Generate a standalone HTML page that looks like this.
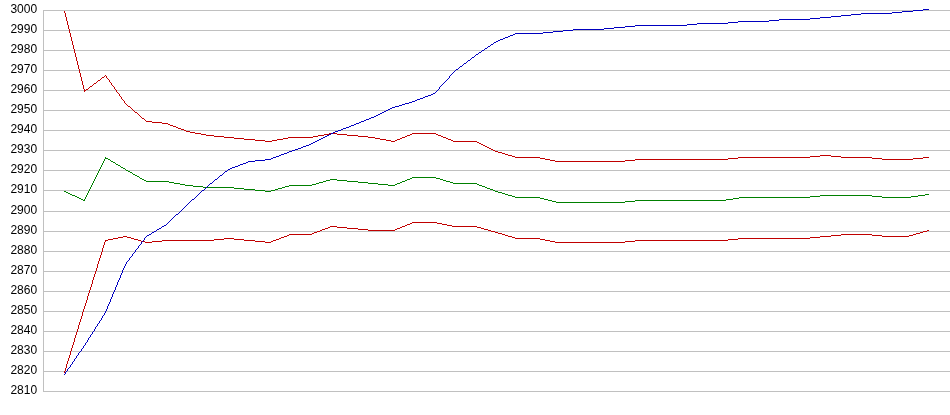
<!DOCTYPE html>
<html><head><meta charset="utf-8"><style>
html,body{margin:0;padding:0;background:#fff;}
body{width:950px;height:415px;position:relative;overflow:hidden;}
.l{position:absolute;right:912px;font-family:"Liberation Sans",sans-serif;font-size:12px;line-height:14px;color:#000;white-space:nowrap;will-change:transform;transform:translateX(-0.6px);}
svg{position:absolute;left:0;top:0;}
</style></head><body>
<div class="l" style="top:2px">3000</div><div class="l" style="top:22px">2990</div><div class="l" style="top:42px">2980</div><div class="l" style="top:62px">2970</div><div class="l" style="top:82px">2960</div><div class="l" style="top:102px">2950</div><div class="l" style="top:122px">2940</div><div class="l" style="top:142px">2930</div><div class="l" style="top:162px">2920</div><div class="l" style="top:182px">2910</div><div class="l" style="top:203px">2900</div><div class="l" style="top:223px">2890</div><div class="l" style="top:243px">2880</div><div class="l" style="top:263px">2870</div><div class="l" style="top:283px">2860</div><div class="l" style="top:303px">2850</div><div class="l" style="top:323px">2840</div><div class="l" style="top:343px">2830</div><div class="l" style="top:363px">2820</div><div class="l" style="top:383px">2810</div>
<svg width="950" height="415" viewBox="0 0 950 415" shape-rendering="crispEdges">
<path fill="#c0c0c0" d="M43 10h907v1h-907zM43 30h907v1h-907zM43 50h907v1h-907zM43 70h907v1h-907zM43 90h907v1h-907zM43 110h907v1h-907zM43 130h907v1h-907zM43 150h907v1h-907zM43 170h907v1h-907zM43 190h907v1h-907zM43 211h907v1h-907zM43 231h907v1h-907zM43 251h907v1h-907zM43 271h907v1h-907zM43 291h907v1h-907zM43 311h907v1h-907zM43 331h907v1h-907zM43 351h907v1h-907zM43 371h907v1h-907zM43 391h907v1h-907zM43 10h1v382h-1z"/>
<path fill="#c00000" d="M255 140h10v1h-10zM272 140h5v1h-5zM386 140h5v1h-5zM395 140h2v1h-2zM451 140h2v1h-2zM555 161h70v1h-70zM170 125h3v1h-3zM515 157h25v1h-25zM738 157h72v1h-72zM841 157h31v1h-31zM923 157h6v1h-6zM94 83h2v1h-2zM265 141h7v1h-7zM391 141h4v1h-4zM453 141h24v1h-24zM201 134h5v1h-5zM324 134h5v1h-5zM337 134h10v1h-10zM410 134h2v1h-2zM436 134h2v1h-2zM224 137h10v1h-10zM288 137h25v1h-25zM368 137h7v1h-7zM402 137h3v1h-3zM443 137h3v1h-3zM545 159h5v1h-5zM635 159h93v1h-93zM882 159h31v1h-31zM550 160h5v1h-5zM625 160h10v1h-10zM86 89h2v1h-2zM195 133h6v1h-6zM329 133h8v1h-8zM412 133h24v1h-24zM540 158h5v1h-5zM728 158h10v1h-10zM872 158h10v1h-10zM913 158h10v1h-10zM244 139h11v1h-11zM277 139h6v1h-6zM380 139h6v1h-6zM397 139h3v1h-3zM448 139h3v1h-3zM214 136h10v1h-10zM313 136h5v1h-5zM358 136h10v1h-10zM405 136h2v1h-2zM441 136h2v1h-2zM162 123h6v1h-6zM512 156h3v1h-3zM810 156h10v1h-10zM831 156h10v1h-10zM502 153h3v1h-3zM206 135h8v1h-8zM318 135h6v1h-6zM347 135h11v1h-11zM407 135h3v1h-3zM438 135h3v1h-3zM181 129h3v1h-3zM505 154h3v1h-3zM173 126h3v1h-3zM508 155h4v1h-4zM820 155h11v1h-11zM186 131h4v1h-4zM498 152h4v1h-4zM102 77h2v1h-2zM234 138h10v1h-10zM283 138h5v1h-5zM375 138h5v1h-5zM400 138h2v1h-2zM446 138h2v1h-2zM152 122h10v1h-10zM98 80h2v1h-2zM146 121h6v1h-6zM90 86h2v1h-2zM142 118h2v1h-2zM190 132h5v1h-5zM495 151h3v1h-3zM128 106h2v1h-2zM481 144h2v1h-2zM477 142h2v1h-2zM487 147h2v1h-2zM479 143h2v1h-2zM168 124h2v1h-2zM483 145h2v1h-2zM84 90h2v1h-2zM178 128h3v1h-3zM135 112h2v1h-2zM176 127h2v1h-2zM491 149h2v1h-2zM493 150h2v1h-2zM485 146h2v1h-2zM489 148h2v1h-2zM184 130h2v1h-2zM114 87h1v2h-1zM78 65h1v4h-1zM97 81h1v1h-1zM123 100h1v1h-1zM71 37h1v4h-1zM111 83h1v2h-1zM65 13h1v4h-1zM83 85h1v4h-1zM69 29h1v4h-1zM77 61h1v4h-1zM81 77h1v4h-1zM106 76h1v2h-1zM115 89h1v1h-1zM117 92h1v1h-1zM73 45h1v4h-1zM137 113h1v1h-1zM121 97h1v2h-1zM74 49h1v4h-1zM122 99h1v1h-1zM109 80h1v2h-1zM72 41h1v4h-1zM66 17h1v4h-1zM70 33h1v4h-1zM88 88h1v1h-1zM64 11h1v2h-1zM82 81h1v4h-1zM140 116h1v1h-1zM76 57h1v4h-1zM80 73h1v4h-1zM67 21h1v4h-1zM92 85h1v1h-1zM79 69h1v4h-1zM124 101h1v2h-1zM141 117h1v1h-1zM101 78h1v1h-1zM75 53h1v4h-1zM119 94h1v2h-1zM107 78h1v1h-1zM116 90h1v2h-1zM138 114h1v1h-1zM131 108h1v1h-1zM120 96h1v1h-1zM108 79h1v1h-1zM132 109h1v1h-1zM96 82h1v1h-1zM133 110h1v1h-1zM144 119h1v1h-1zM68 25h1v4h-1zM100 79h1v1h-1zM118 93h1v1h-1zM134 111h1v1h-1zM127 105h1v1h-1zM130 107h1v1h-1zM89 87h1v1h-1zM112 85h1v1h-1zM125 103h1v1h-1zM126 104h1v1h-1zM113 86h1v1h-1zM84 89h1v1h-1zM84 91h1v1h-1zM105 75h1v1h-1zM145 120h1v1h-1zM104 76h1v1h-1zM110 82h1v1h-1zM93 84h1v1h-1zM139 115h1v1h-1z"/>
<path fill="#008000" d="M142 179h2v1h-2zM330 179h7v1h-7zM407 179h3v1h-3zM440 179h3v1h-3zM146 181h23v1h-23zM323 181h3v1h-3zM347 181h11v1h-11zM402 181h3v1h-3zM446 181h4v1h-4zM135 175h2v1h-2zM180 184h5v1h-5zM312 184h4v1h-4zM378 184h10v1h-10zM395 184h2v1h-2zM477 184h2v1h-2zM83 200h2v1h-2zM548 200h4v1h-4zM635 200h91v1h-91zM77 197h2v1h-2zM515 197h25v1h-25zM739 197h71v1h-71zM882 197h29v1h-29zM144 180h2v1h-2zM326 180h4v1h-4zM337 180h10v1h-10zM405 180h2v1h-2zM443 180h3v1h-3zM174 183h6v1h-6zM316 183h3v1h-3zM368 183h10v1h-10zM397 183h3v1h-3zM453 183h24v1h-24zM556 202h69v1h-69zM108 159h2v1h-2zM169 182h5v1h-5zM319 182h4v1h-4zM358 182h10v1h-10zM400 182h2v1h-2zM450 182h3v1h-3zM75 196h2v1h-2zM512 196h3v1h-3zM810 196h10v1h-10zM872 196h10v1h-10zM911 196h7v1h-7zM81 199h2v1h-2zM544 199h4v1h-4zM726 199h7v1h-7zM72 195h3v1h-3zM508 195h4v1h-4zM820 195h52v1h-52zM918 195h7v1h-7zM244 189h11v1h-11zM275 189h3v1h-3zM490 189h3v1h-3zM255 190h10v1h-10zM271 190h4v1h-4zM493 190h2v1h-2zM234 188h10v1h-10zM278 188h4v1h-4zM487 188h3v1h-3zM70 194h2v1h-2zM505 194h3v1h-3zM925 194h4v1h-4zM116 164h2v1h-2zM66 192h2v1h-2zM498 192h4v1h-4zM185 185h8v1h-8zM289 185h23v1h-23zM388 185h7v1h-7zM479 185h3v1h-3zM203 187h31v1h-31zM282 187h3v1h-3zM485 187h2v1h-2zM412 177h24v1h-24zM193 186h10v1h-10zM285 186h4v1h-4zM482 186h3v1h-3zM68 193h2v1h-2zM502 193h3v1h-3zM64 191h2v1h-2zM265 191h6v1h-6zM495 191h3v1h-3zM79 198h2v1h-2zM540 198h4v1h-4zM733 198h6v1h-6zM128 171h2v1h-2zM126 170h2v1h-2zM552 201h4v1h-4zM625 201h10v1h-10zM133 174h2v1h-2zM130 172h2v1h-2zM123 168h2v1h-2zM118 165h2v1h-2zM111 161h2v1h-2zM105 158h3v1h-3zM137 176h2v1h-2zM140 178h2v1h-2zM410 178h2v1h-2zM436 178h4v1h-4zM121 167h2v1h-2zM113 162h2v1h-2zM87 193h1v2h-1zM93 181h1v2h-1zM92 183h1v2h-1zM94 179h1v2h-1zM89 189h1v2h-1zM98 171h1v2h-1zM99 169h1v2h-1zM104 159h1v2h-1zM115 163h1v1h-1zM103 161h1v2h-1zM132 173h1v1h-1zM88 191h1v2h-1zM90 187h1v2h-1zM85 197h1v2h-1zM110 160h1v1h-1zM95 177h1v2h-1zM100 167h1v2h-1zM84 199h1v1h-1zM86 195h1v2h-1zM91 185h1v2h-1zM96 175h1v2h-1zM101 165h1v2h-1zM139 177h1v1h-1zM102 163h1v2h-1zM97 173h1v2h-1zM125 169h1v1h-1zM105 157h1v1h-1zM120 166h1v1h-1z"/>
<path fill="#c00000" d="M330 226h7v1h-7zM402 226h3v1h-3zM452 226h25v1h-25zM113 238h5v1h-5zM131 238h3v1h-3zM224 238h10v1h-10zM279 238h2v1h-2zM515 238h25v1h-25zM738 238h72v1h-72zM108 239h5v1h-5zM134 239h4v1h-4zM214 239h10v1h-10zM234 239h10v1h-10zM276 239h3v1h-3zM540 239h5v1h-5zM728 239h10v1h-10zM105 240h3v1h-3zM138 240h3v1h-3zM162 240h52v1h-52zM244 240h11v1h-11zM273 240h3v1h-3zM545 240h5v1h-5zM635 240h93v1h-93zM325 228h3v1h-3zM347 228h11v1h-11zM397 228h3v1h-3zM481 228h3v1h-3zM320 230h2v1h-2zM368 230h27v1h-27zM488 230h3v1h-3zM927 230h2v1h-2zM289 234h23v1h-23zM502 234h3v1h-3zM841 234h31v1h-31zM913 234h3v1h-3zM410 223h2v1h-2zM437 223h5v1h-5zM145 242h7v1h-7zM265 242h6v1h-6zM555 242h70v1h-70zM123 236h4v1h-4zM284 236h3v1h-3zM508 236h4v1h-4zM820 236h11v1h-11zM882 236h27v1h-27zM322 229h3v1h-3zM358 229h10v1h-10zM395 229h2v1h-2zM484 229h4v1h-4zM287 235h2v1h-2zM505 235h3v1h-3zM831 235h10v1h-10zM872 235h10v1h-10zM909 235h4v1h-4zM118 237h5v1h-5zM127 237h4v1h-4zM281 237h3v1h-3zM512 237h3v1h-3zM810 237h10v1h-10zM141 241h4v1h-4zM152 241h10v1h-10zM255 241h10v1h-10zM271 241h2v1h-2zM550 241h5v1h-5zM625 241h10v1h-10zM328 227h2v1h-2zM337 227h10v1h-10zM400 227h2v1h-2zM477 227h4v1h-4zM312 233h2v1h-2zM498 233h4v1h-4zM916 233h4v1h-4zM412 222h25v1h-25zM317 231h3v1h-3zM491 231h4v1h-4zM923 231h4v1h-4zM314 232h3v1h-3zM495 232h3v1h-3zM920 232h3v1h-3zM407 224h3v1h-3zM442 224h5v1h-5zM405 225h2v1h-2zM447 225h5v1h-5zM75 335h1v3h-1zM97 264h1v4h-1zM90 287h1v3h-1zM80 319h1v3h-1zM72 345h1v3h-1zM71 348h1v3h-1zM101 252h1v3h-1zM103 245h1v3h-1zM82 312h1v4h-1zM93 277h1v3h-1zM92 280h1v4h-1zM84 306h1v3h-1zM74 338h1v4h-1zM67 361h1v3h-1zM88 293h1v3h-1zM78 325h1v4h-1zM89 290h1v3h-1zM95 271h1v3h-1zM102 248h1v4h-1zM99 258h1v3h-1zM91 284h1v3h-1zM98 261h1v3h-1zM87 296h1v4h-1zM69 355h1v3h-1zM70 351h1v4h-1zM105 241h1v1h-1zM73 342h1v3h-1zM83 309h1v3h-1zM65 368h1v3h-1zM104 242h1v3h-1zM94 274h1v3h-1zM86 300h1v3h-1zM96 268h1v3h-1zM100 255h1v3h-1zM68 358h1v3h-1zM64 371h1v2h-1zM85 303h1v3h-1zM77 329h1v3h-1zM81 316h1v3h-1zM66 364h1v4h-1zM79 322h1v3h-1zM76 332h1v3h-1z"/>
<path fill="#0000c0" d="M323 137h2v1h-2zM573 29h31v1h-31zM738 21h31v1h-31zM913 10h10v1h-10zM861 13h31v1h-31zM510 35h3v1h-3zM287 152h2v1h-2zM614 27h11v1h-11zM687 24h10v1h-10zM265 159h6v1h-6zM319 139h2v1h-2zM635 25h52v1h-52zM779 19h31v1h-31zM298 148h3v1h-3zM728 22h10v1h-10zM902 11h11v1h-11zM248 161h7v1h-7zM255 160h10v1h-10zM515 33h28v1h-28zM271 158h2v1h-2zM697 23h31v1h-31zM364 120h2v1h-2zM238 165h2v1h-2zM820 17h11v1h-11zM769 20h10v1h-10zM152 232h2v1h-2zM399 105h3v1h-3zM923 9h6v1h-6zM338 130h3v1h-3zM553 31h10v1h-10zM892 12h10v1h-10zM303 146h3v1h-3zM479 52h2v1h-2zM464 63h2v1h-2zM232 167h3v1h-3zM500 39h3v1h-3zM625 26h10v1h-10zM349 126h2v1h-2zM491 44h2v1h-2zM210 183h2v1h-2zM384 111h2v1h-2zM468 60h2v1h-2zM563 30h10v1h-10zM405 103h4v1h-4zM343 128h3v1h-3zM472 57h2v1h-2zM354 124h2v1h-2zM851 14h10v1h-10zM505 37h3v1h-3zM315 141h2v1h-2zM841 15h10v1h-10zM810 18h10v1h-10zM395 106h4v1h-4zM543 32h10v1h-10zM333 132h2v1h-2zM476 54h2v1h-2zM496 41h2v1h-2zM295 149h3v1h-3zM371 117h3v1h-3zM488 46h2v1h-2zM402 104h3v1h-3zM380 113h2v1h-2zM433 93h2v1h-2zM306 145h3v1h-3zM279 155h2v1h-2zM831 16h10v1h-10zM376 115h2v1h-2zM417 99h3v1h-3zM240 164h3v1h-3zM325 136h2v1h-2zM356 123h3v1h-3zM412 101h3v1h-3zM390 108h2v1h-2zM284 153h3v1h-3zM351 125h3v1h-3zM329 134h2v1h-2zM225 171h2v1h-2zM289 151h3v1h-3zM366 119h3v1h-3zM335 131h3v1h-3zM230 168h2v1h-2zM301 147h2v1h-2zM604 28h10v1h-10zM273 157h3v1h-3zM341 129h2v1h-2zM494 42h2v1h-2zM409 102h3v1h-3zM202 190h2v1h-2zM321 138h2v1h-2zM235 166h3v1h-3zM503 38h2v1h-2zM162 226h2v1h-2zM378 114h2v1h-2zM386 110h2v1h-2zM317 140h2v1h-2zM346 127h3v1h-3zM415 100h2v1h-2zM513 34h2v1h-2zM425 96h3v1h-3zM361 121h3v1h-3zM331 133h2v1h-2zM420 98h3v1h-3zM292 150h3v1h-3zM431 94h2v1h-2zM154 231h2v1h-2zM456 69h2v1h-2zM159 228h2v1h-2zM374 116h2v1h-2zM147 235h2v1h-2zM482 50h2v1h-2zM313 142h2v1h-2zM164 225h2v1h-2zM281 154h3v1h-3zM392 107h3v1h-3zM243 163h3v1h-3zM327 135h2v1h-2zM228 169h2v1h-2zM423 97h2v1h-2zM369 118h2v1h-2zM220 175h2v1h-2zM309 144h2v1h-2zM276 156h3v1h-3zM388 109h2v1h-2zM157 229h2v1h-2zM428 95h3v1h-3zM149 234h2v1h-2zM215 179h2v1h-2zM311 143h2v1h-2zM246 162h2v1h-2zM485 48h2v1h-2zM498 40h2v1h-2zM508 36h2v1h-2zM382 112h2v1h-2zM192 199h2v1h-2zM176 214h2v1h-2zM359 122h2v1h-2zM460 66h2v1h-2zM444 82h1v1h-1zM67 369h1v2h-1zM69 367h1v1h-1zM138 246h1v2h-1zM115 287h1v3h-1zM108 304h1v2h-1zM124 266h1v2h-1zM81 349h1v2h-1zM125 264h1v2h-1zM126 262h1v2h-1zM117 282h1v3h-1zM119 278h1v2h-1zM65 372h1v2h-1zM136 249h1v1h-1zM137 248h1v1h-1zM139 245h1v1h-1zM77 355h1v1h-1zM80 351h1v1h-1zM184 207h1v1h-1zM133 253h1v1h-1zM135 250h1v2h-1zM439 87h1v2h-1zM442 84h1v1h-1zM107 306h1v3h-1zM113 292h1v2h-1zM219 176h1v1h-1zM209 184h1v1h-1zM182 209h1v1h-1zM129 258h1v2h-1zM99 321h1v2h-1zM101 318h1v2h-1zM467 61h1v1h-1zM437 90h1v1h-1zM438 89h1v1h-1zM440 86h1v1h-1zM122 270h1v3h-1zM223 173h1v1h-1zM123 268h1v2h-1zM207 186h1v1h-1zM224 172h1v1h-1zM493 43h1v1h-1zM212 182h1v1h-1zM213 181h1v1h-1zM167 223h1v1h-1zM470 59h1v1h-1zM436 91h1v1h-1zM471 58h1v1h-1zM105 311h1v2h-1zM222 174h1v1h-1zM87 340h1v2h-1zM217 178h1v1h-1zM200 192h1v1h-1zM166 224h1v1h-1zM201 191h1v1h-1zM435 92h1v1h-1zM111 297h1v2h-1zM475 55h1v1h-1zM104 313h1v2h-1zM106 309h1v2h-1zM141 242h1v2h-1zM121 273h1v2h-1zM144 238h1v2h-1zM143 240h1v1h-1zM95 327h1v2h-1zM97 324h1v2h-1zM199 193h1v1h-1zM172 218h1v1h-1zM205 188h1v1h-1zM140 244h1v1h-1zM120 275h1v3h-1zM92 332h1v2h-1zM73 361h1v1h-1zM197 195h1v1h-1zM198 194h1v1h-1zM71 364h1v1h-1zM94 329h1v2h-1zM109 302h1v2h-1zM83 346h1v2h-1zM443 83h1v1h-1zM70 365h1v2h-1zM183 208h1v1h-1zM79 352h1v1h-1zM190 201h1v1h-1zM100 320h1v1h-1zM191 200h1v1h-1zM102 316h1v2h-1zM112 294h1v3h-1zM82 348h1v1h-1zM114 290h1v2h-1zM448 78h1v1h-1zM449 76h1v2h-1zM441 85h1v1h-1zM181 210h1v1h-1zM78 353h1v2h-1zM189 202h1v1h-1zM88 338h1v2h-1zM90 335h1v2h-1zM484 49h1v1h-1zM174 216h1v1h-1zM175 215h1v1h-1zM89 337h1v1h-1zM227 170h1v1h-1zM173 217h1v1h-1zM118 280h1v2h-1zM474 56h1v1h-1zM179 212h1v1h-1zM64 374h1v1h-1zM455 70h1v1h-1zM76 356h1v2h-1zM74 359h1v2h-1zM204 189h1v1h-1zM487 47h1v1h-1zM146 236h1v1h-1zM478 53h1v1h-1zM161 227h1v1h-1zM131 256h1v1h-1zM132 254h1v2h-1zM453 72h1v1h-1zM72 362h1v2h-1zM454 71h1v1h-1zM142 241h1v1h-1zM116 285h1v2h-1zM459 67h1v1h-1zM490 45h1v1h-1zM110 299h1v3h-1zM128 260h1v1h-1zM85 343h1v2h-1zM452 73h1v1h-1zM156 230h1v1h-1zM195 197h1v1h-1zM127 261h1v1h-1zM196 196h1v1h-1zM194 198h1v1h-1zM447 79h1v1h-1zM180 211h1v1h-1zM187 204h1v1h-1zM445 81h1v1h-1zM178 213h1v1h-1zM185 206h1v1h-1zM66 371h1v1h-1zM145 237h1v1h-1zM68 368h1v1h-1zM96 326h1v1h-1zM98 323h1v1h-1zM171 219h1v1h-1zM458 68h1v1h-1zM463 64h1v1h-1zM134 252h1v1h-1zM214 180h1v1h-1zM481 51h1v1h-1zM169 221h1v1h-1zM75 358h1v1h-1zM170 220h1v1h-1zM84 345h1v1h-1zM86 342h1v1h-1zM130 257h1v1h-1zM462 65h1v1h-1zM451 74h1v1h-1zM218 177h1v1h-1zM168 222h1v1h-1zM208 185h1v1h-1zM103 315h1v1h-1zM466 62h1v1h-1zM151 233h1v1h-1zM450 75h1v1h-1zM206 187h1v1h-1zM188 203h1v1h-1zM446 80h1v1h-1zM91 334h1v1h-1zM93 331h1v1h-1zM186 205h1v1h-1z"/>
</svg>
</body></html>
